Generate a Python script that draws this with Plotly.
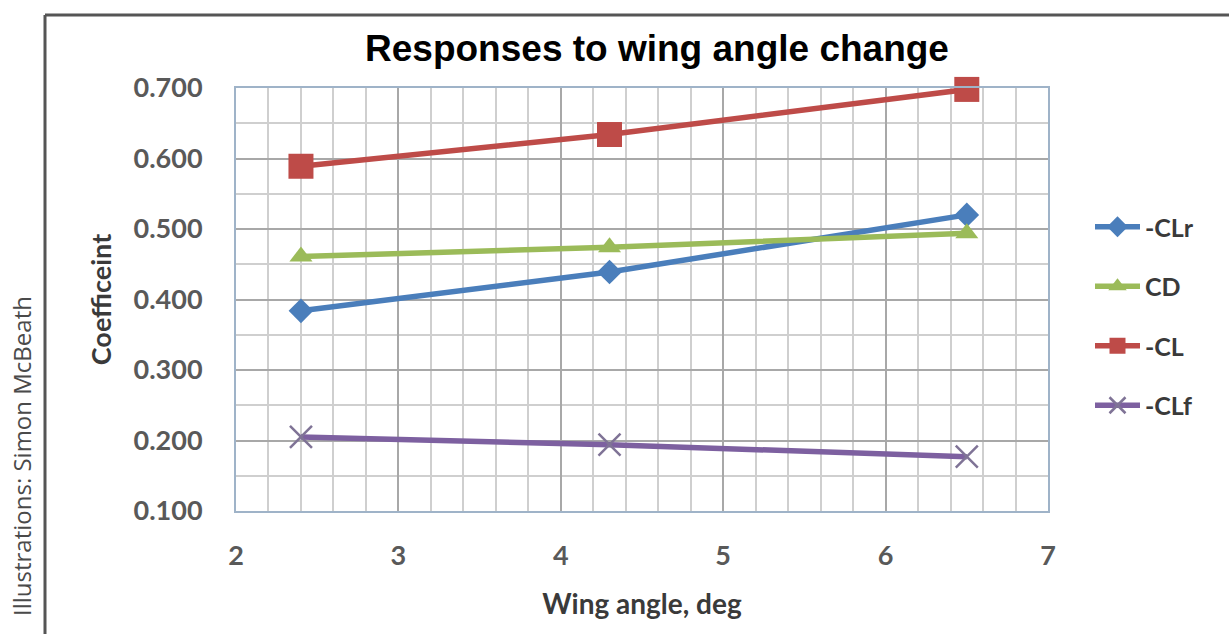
import plotly.graph_objects as go

# Wing angle sweep (deg) and the measured coefficients
wing_angle = [2.4, 4.3, 6.5]
neg_clr = [0.384, 0.439, 0.520]
cd = [0.461, 0.474, 0.494]
neg_cl = [0.589, 0.634, 0.698]
neg_clf = [0.205, 0.194, 0.177]

series_names = ["-CLr", "CD", "-CL", "-CLf"]
series_values = [neg_clr, cd, neg_cl, neg_clf]
series_colors = ["#4a7ebb", "#9bbb59", "#be4b48", "#7d60a0"]
series_markers = [
    dict(symbol="diamond", size=19),
    dict(symbol="triangle-up", size=20),
    dict(symbol="square", size=25),
    dict(symbol="x-thin", size=22, line=dict(width=2.5, color="#7f7396")),
]

W, H = 1229, 634
L, R, T, B = 236, 1048, 88, 511


def px_x(p):
    return (p - L) / (R - L)


def px_y(p):
    return (B - p) / (B - T)


fig = go.Figure()
for i, (name, vals, col, mk) in enumerate(zip(series_names, series_values, series_colors, series_markers)):
    marker = dict(color=col, **mk)
    fig.add_trace(go.Scatter(
        x=wing_angle, y=vals, name=name, mode="lines+markers",
        line=dict(color=col, width=5.5), marker=marker,
        legendgroup=f"g{i}", cliponaxis=False,
    ))

tick_font = dict(family="Lato", size=27, color="#595959", weight="bold")

fig.update_layout(
    width=W, height=H,
    margin=dict(l=L, r=W - R, t=T, b=H - B),
    paper_bgcolor="white", plot_bgcolor="white",
    showlegend=True,
    legend=dict(
        x=px_x(1090), y=px_y(204), xanchor="left", yanchor="top",
        font=dict(family="Lato", size=25, color="#3a3a3a", weight="bold"),
        tracegroupgap=24, itemwidth=45, bgcolor="rgba(0,0,0,0)",
    ),
    xaxis=dict(
        range=[2, 7], dtick=1, tick0=2, showgrid=True,
        gridcolor="#a8a8a8", gridwidth=1.5,
        minor=dict(dtick=0.2, showgrid=True, gridcolor="#cfcfcf", gridwidth=1.5),
        showline=True, mirror=True, linecolor="#9fb3c8", linewidth=2,
        zeroline=False, tickfont=tick_font, ticklabelstandoff=20,
        title=dict(text="Wing angle, deg", standoff=24,
                   font=dict(family="Lato", size=28, color="#3a3a3a", weight="bold")),
    ),
    yaxis=dict(
        range=[0.1, 0.7], dtick=0.1, tick0=0.1, tickformat=".3f", showgrid=True,
        gridcolor="#a8a8a8", gridwidth=1.5,
        minor=dict(dtick=0.05, showgrid=True, gridcolor="#cfcfcf", gridwidth=1.5),
        showline=True, mirror=True, linecolor="#9fb3c8", linewidth=2,
        zeroline=False, tickfont=tick_font, ticklabelstandoff=26,
        title=dict(text="Coefficeint", standoff=14,
                   font=dict(family="Lato", size=27, color="#3a3a3a", weight="bold")),
    ),
    title=dict(
        text="<b>Responses to wing angle change</b>",
        x=657 / W, xanchor="center", y=1 - 48 / H, yanchor="middle",
        xref="container", yref="container",
        font=dict(family="Liberation Sans", size=37, color="#000000"),
    ),
)

# Outer frame around the chart (top and left edges visible)
fig.add_shape(type="line", xref="paper", yref="paper",
              x0=px_x(45), x1=px_x(1240), y0=px_y(15), y1=px_y(15),
              line=dict(color="#555555", width=3))
fig.add_shape(type="line", xref="paper", yref="paper",
              x0=px_x(45), x1=px_x(45), y0=px_y(15), y1=px_y(650),
              line=dict(color="#555555", width=3))

# Credit line running up the left margin
fig.add_annotation(
    text="Illustrations: Simon McBeath", textangle=-90,
    xref="paper", yref="paper", x=px_x(21), y=px_y(294),
    xanchor="center", yanchor="top", showarrow=False,
    font=dict(family="Open Sans", size=24, color="#4a4a4a"),
)

fig.write_html("out.html")
